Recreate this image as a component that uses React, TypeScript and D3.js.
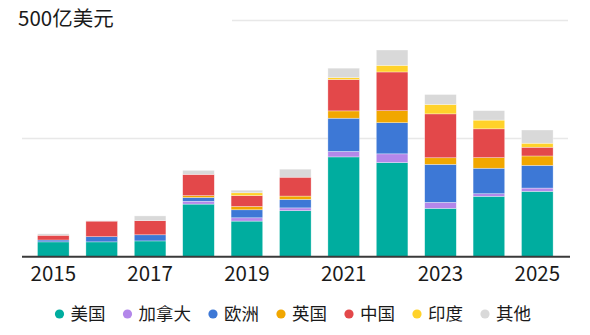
import React from "react";
import * as d3 from "d3";

// Annual investment by region, unit: 亿美元
const years = ["2015", "2016", "2017", "2018", "2019", "2020", "2021", "2022", "2023", "2024", "2025"];
const seriesNames = ["美国", "加拿大", "欧洲", "英国", "中国", "印度", "其他"];
const usa = [31, 31, 33, 111, 75, 97, 211, 199, 102, 127.5, 138];
const canada = [0, 0, 0, 6, 7, 6, 11.5, 18.5, 12.7, 5.5, 7];
const europe = [4, 11, 13, 8, 17, 18, 70.5, 66, 80.5, 54, 48];
const uk = [0, 0, 0, 4, 7, 7, 15.5, 25.5, 14, 22.5, 20];
const china = [10, 33, 30, 45, 23, 40, 66.5, 82, 93, 61, 18.5];
const india = [0, 0, 0, 0, 6, 0, 4, 14, 20, 18.5, 8.5];
const other = [3, 1, 10, 8.5, 5.5, 17, 20, 32.5, 21, 20, 28];
const gridValues = [250, 500];
const tickYears = ["2015", "2017", "2019", "2021", "2023", "2025"];
const unitLabel = "500亿美元";

const colors = ["#00ad9f", "#b387ea", "#3d78d6", "#f1a700", "#e3484a", "#ffd22a", "#d9d9d9"];
const seriesValues = [usa, canada, europe, uk, china, india, other];

const W = 590;
const H = 335;
const FONT = "'Noto Sans CJK SC', 'Noto Sans', sans-serif";

export default function App() {
  const rows = years.map((y, i) => {
    const r: Record<string, number | string> = { year: y };
    seriesNames.forEach((s, k) => (r[s] = seriesValues[k][i]));
    return r;
  });
  const stacked = d3.stack<any>().keys(seriesNames)(rows);

  const x = d3
    .scaleBand<string>()
    .domain(years)
    .range([29.1, 561.5])
    .paddingInner(0.347)
    .paddingOuter(0.1735);
  const y = d3.scaleLinear().domain([0, 500]).range([256.5, 20.5]);

  // legend layout: dot, label, gap
  const legendFont = 17.5;
  let lx = 59.5;
  const legendItems = seriesNames.map((name, k) => {
    const item = { name, color: colors[k], cx: lx };
    lx += 11 + name.length * legendFont + 22;
    return item;
  });

  return (
    <div style={{ position: "fixed", left: 0, top: 0 }}>
      <svg width={W} height={H} style={{ display: "block", background: "#fff" }}>
        {gridValues.map((v) => (
          <line
            key={v}
            x1={v === 500 ? 232 : 22}
            x2={568}
            y1={y(v)}
            y2={y(v)}
            stroke="#e8e8e8"
            strokeWidth={1.5}
          />
        ))}
        {stacked.map((layer, k) => (
          <g key={layer.key} fill={colors[k]}>
            {layer.map((d, i) =>
              d[1] - d[0] > 0 ? (
                <rect
                  key={i}
                  x={x(years[i])}
                  width={x.bandwidth()}
                  y={y(d[1])}
                  height={y(d[0]) - y(d[1])}
                  stroke="#ffffff"
                  strokeOpacity={0.55}
                  strokeWidth={0.6}
                />
              ) : null
            )}
          </g>
        ))}
        <line x1={22} x2={570} y1={256.8} y2={256.8} stroke="#3a3a3a" strokeWidth={2} />
        {tickYears.map((t) => (
          <text
            key={t}
            x={(x(t) as number) + x.bandwidth() / 2}
            y={281}
            textAnchor="middle"
            fontFamily={FONT}
            fontSize={20.5}
            fill="#1a1a1a"
          >
            {t}
          </text>
        ))}
        <text x={18} y={25.5} fontFamily={FONT} fontSize={20.5} fill="#1a1a1a">
          {unitLabel}
        </text>
        {legendItems.map((it) => (
          <g key={it.name}>
            <circle cx={it.cx} cy={314} r={4.6} fill={it.color} />
            <text
              x={it.cx + 11}
              y={320.2}
              fontFamily={FONT}
              fontSize={legendFont}
              fill="#1a1a1a"
            >
              {it.name}
            </text>
          </g>
        ))}
      </svg>
    </div>
  );
}
